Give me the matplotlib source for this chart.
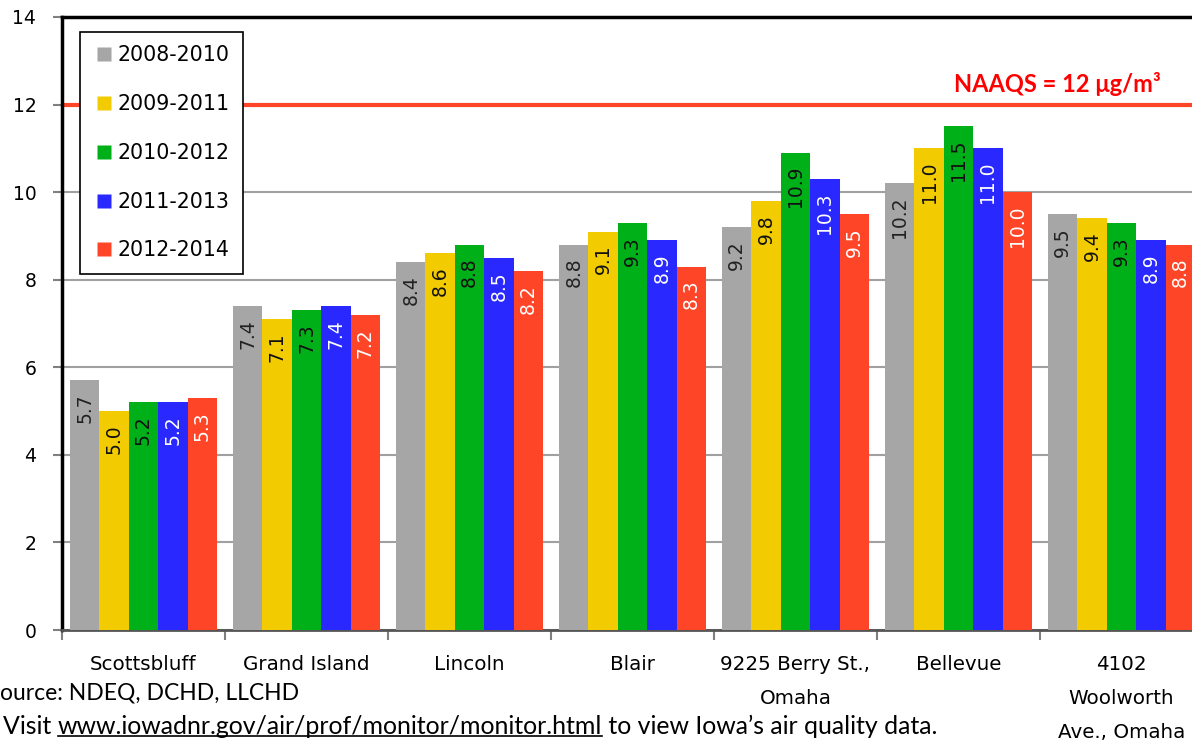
import matplotlib
matplotlib.use('Agg')
import matplotlib.pyplot as plt
from matplotlib.lines import Line2D
import numpy as np

sites = ["Scottsbluff", "Grand Island", "Lincoln", "Blair",
         "9225 Berry St.,\nOmaha", "Bellevue", "4102\nWoolworth\nAve., Omaha"]
periods = ["2008-2010", "2009-2011", "2010-2012", "2011-2013", "2012-2014"]
v_2008_2010 = [5.7, 7.4, 8.4, 8.8, 9.2, 10.2, 9.5]
v_2009_2011 = [5.0, 7.1, 8.6, 9.1, 9.8, 11.0, 9.4]
v_2010_2012 = [5.2, 7.3, 8.8, 9.3, 10.9, 11.5, 9.3]
v_2011_2013 = [5.2, 7.4, 8.5, 8.9, 10.3, 11.0, 8.9]
v_2012_2014 = [5.3, 7.2, 8.2, 8.3, 9.5, 10.0, 8.8]
series = [v_2008_2010, v_2009_2011, v_2010_2012, v_2011_2013, v_2012_2014]
naaqs = 12
yticks = [0, 2, 4, 6, 8, 10, 12, 14]

colors = ["#A6A6A6", "#F2CC00", "#00B018", "#2828FF", "#FF4528"]
label_colors = ["#222222", "#111111", "#111111", "#FFFFFF", "#FFFFFF"]

fig = plt.figure(figsize=(11.92, 7.42), dpi=100)
ax = fig.add_axes([62/1192, 112/742, 1141/1192, 613/742])

n = len(sites)
xc = np.arange(n) + 0.5
bw = 0.18
for i, (vals, col, lc) in enumerate(zip(series, colors, label_colors)):
    xs = xc + (i - 2) * bw
    ax.bar(xs, vals, width=bw, color=col, edgecolor='none', zorder=3)
    for x, v in zip(xs, vals):
        ax.text(x, v - 0.3, f"{v:.1f}", rotation=90, ha='center', va='top',
                fontsize=13.5, color=lc, zorder=4, family='DejaVu Sans')

ax.axhline(naaqs, color="#FF4528", lw=3, zorder=2)
ax.text(5.47, naaqs + 0.2, "NAAQS = 12 μg/m³", color="#FF0000",
        fontsize=17, fontweight='bold', family='Lato', ha='left', va='bottom')

ax.set_xlim(0, n)
ax.set_ylim(0, 14)
ax.set_yticks(yticks)
ax.set_yticklabels([str(t) for t in yticks], fontsize=13.5)
ax.yaxis.grid(True, color="#A0A0A0", lw=1.5, zorder=0)
ax.set_axisbelow(True)

ax.set_xticks(np.arange(n + 1))
ax.set_xticklabels([])
ax.set_xticks(xc, minor=True)
ax.set_xticklabels(sites, minor=True, fontsize=14.3, linespacing=2.0, va='top')
ax.tick_params(axis='x', which='minor', length=0, pad=18)
ax.tick_params(axis='x', which='major', length=7, color="#808080", width=1.5)
ax.tick_params(axis='y', length=6.5, color="#808080", width=1.5, pad=12)

for s in ['top', 'left']:
    ax.spines[s].set_color('black')
    ax.spines[s].set_linewidth(2.5)
ax.spines['bottom'].set_color('#555555')
ax.spines['bottom'].set_linewidth(2)
ax.spines['right'].set_visible(False)

handles = [Line2D([], [], marker='s', ls='none', markersize=10, color=c,
                  markeredgecolor='none') for c in colors]
leg = ax.legend(handles, periods, loc='upper left', bbox_to_anchor=(0.0158, 0.9755),
                borderaxespad=0, fontsize=14.8, labelspacing=1.4, handletextpad=0.15,
                handlelength=1.0, borderpad=0.65, fancybox=False, framealpha=1,
                edgecolor='black')
leg.get_frame().set_linewidth(1.2)
leg.set_zorder(10)

fig.text(0.0, 1 - 693/742, "ource: NDEQ, DCHD, LLCHD", fontsize=16.5, family='Lato',
         ha='left', va='center', color='black')
t1 = fig.text(3/1192, 1 - 727/742, "Visit ", fontsize=17.9, family='Lato',
              ha='left', va='center', color='black')
t2 = ax.annotate("www.iowadnr.gov/air/prof/monitor/monitor.html", xy=(1, 0),
                 xycoords=t1, va='bottom', ha='left', fontsize=17.9, family='Lato',
                 annotation_clip=False)
t3 = ax.annotate(" to view Iowa\u2019s air quality data.", xy=(1, 0), xycoords=t2,
                 va='bottom', ha='left', fontsize=17.9, family='Lato',
                 annotation_clip=False)

fig.canvas.draw()
r = fig.canvas.get_renderer()
bb = t2.get_window_extent(r)
W, H = fig.bbox.width, fig.bbox.height
yline = (bb.y0 + 3) / H
fig.add_artist(Line2D([bb.x0 / W, bb.x1 / W], [yline, yline], color='black', lw=1.2,
                      transform=fig.transFigure))

fig.savefig("out.png", dpi=100)
